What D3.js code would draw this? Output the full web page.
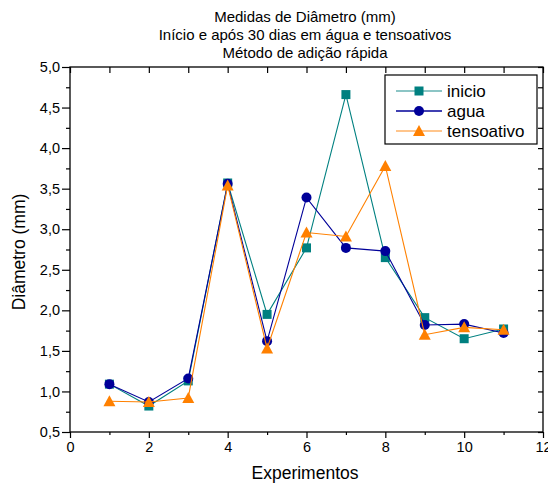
<!DOCTYPE html>
<html><head><meta charset="utf-8">
<script src="https://cdn.jsdelivr.net/npm/d3@7"></script>
<style>body{margin:0;background:#fff}svg{display:block}text{font-family:"Liberation Sans",Arial,sans-serif;fill:#000}</style>
</head><body><svg id="c" width="548" height="484"></svg>
<script>
const experiments = [1,2,3,4,5,6,7,8,9,10,11];
const inicio = [1.09,0.82,1.13,3.57,1.95,2.77,4.66,2.65,1.91,1.65,1.77];
const agua = [1.09,0.87,1.16,3.56,1.62,3.39,2.77,2.73,1.82,1.83,1.72];
const tensoativo = [0.88,0.87,0.92,3.54,1.53,2.96,2.91,3.78,1.70,1.79,1.76];
const xTicks = [0,2,4,6,8,10,12];
const yTicks = [0.5,1.0,1.5,2.0,2.5,3.0,3.5,4.0,4.5,5.0];
const titleLines = ["Medidas de Diâmetro (mm)","Início e após 30 dias em água e tensoativos","Método de adição rápida"];
const seriesNames = ["inicio","agua","tensoativo"];

const svg = d3.select("#c");
const L=70,R=543,T=67,B=432;
const x = d3.scaleLinear().domain([0,12]).range([L,R]);
const y = d3.scaleLinear().domain([0.5,5.0]).range([B,T]);
const fmt = d => d3.format(".1f")(d).replace(".",",");

// frame
svg.append("rect").attr("x",L).attr("y",T).attr("width",R-L).attr("height",B-T).attr("fill","none").attr("stroke","#000").attr("stroke-width",1.3);

// bottom axis
const gB = svg.append("g").attr("transform",`translate(0,${B})`)
  .call(d3.axisBottom(x).tickValues(xTicks).tickFormat(d3.format("d")).tickSize(6).tickPadding(4));
svg.append("g").attr("transform",`translate(0,${B})`)
  .call(d3.axisBottom(x).tickValues(d3.range(1,12,2)).tickFormat("").tickSize(3));
// left axis
const gL = svg.append("g").attr("transform",`translate(${L},0)`)
  .call(d3.axisLeft(y).tickValues(yTicks).tickFormat(fmt).tickSize(8).tickPadding(2));
svg.append("g").attr("transform",`translate(${L},0)`)
  .call(d3.axisLeft(y).tickValues(d3.range(0.75,5,0.5)).tickFormat("").tickSize(4));
// top axis inward
svg.append("g").attr("transform",`translate(0,${T})`)
  .call(d3.axisBottom(x).tickValues(d3.range(0,13,1)).tickFormat("").tickSize(6));
// right axis inward
svg.append("g").attr("transform",`translate(${R},0)`)
  .call(d3.axisLeft(y).tickValues(d3.range(0.5,5.01,0.25)).tickFormat("").tickSize(5));
svg.selectAll(".domain").remove();
svg.selectAll(".tick line").attr("stroke","#000").attr("stroke-width",1.2);
svg.selectAll(".tick text").style("font-family","'Liberation Sans',Arial,sans-serif").style("font-size","14.5px").attr("fill","#000");

// titles
svg.append("text").attr("x",305).attr("text-anchor","middle").style("font-size","15px")
  .selectAll("tspan").data(titleLines).join("tspan").attr("x",305).attr("y",(d,i)=>22+i*18).text(d=>d);
svg.append("text").attr("x",305).attr("y",479).attr("text-anchor","middle").style("font-size","17.5px").text("Experimentos");
svg.append("text").attr("transform","translate(25,252) rotate(-90)").attr("text-anchor","middle").style("font-size","17.5px").text("Diâmetro (mm)");

const colors = {inicio:"#008080",agua:"#000099",tensoativo:"#ff8000"};
const lineCol = {inicio:"#008080",agua:"#000099",tensoativo:"#ff8000"};
const data = {inicio, agua, tensoativo};
function marker(g, name, cx, cy){
  if(name==="inicio") g.append("rect").attr("x",cx-4.5).attr("y",cy-4.5).attr("width",9).attr("height",9).attr("fill",colors[name]);
  else if(name==="agua") g.append("circle").attr("cx",cx).attr("cy",cy).attr("r",5).attr("fill",colors[name]);
  else g.append("path").attr("d",`M${cx},${cy-6}L${cx+6},${cy+5}L${cx-6},${cy+5}Z`).attr("fill",colors[name]);
}
const line = d3.line().x((d,i)=>x(experiments[i])).y(d=>y(d));
seriesNames.forEach(name=>{
  const g = svg.append("g");
  g.append("path").datum(data[name]).attr("d",line).attr("fill","none").attr("stroke",lineCol[name]).attr("stroke-width",1.1);
  data[name].forEach((v,i)=>marker(g,name,x(experiments[i]),y(v)));
});

// legend
const lg = svg.append("g");
lg.append("rect").attr("x",385).attr("y",75).attr("width",152).attr("height",69).attr("fill","#fff").attr("stroke","#000").attr("stroke-width",1.2);
seriesNames.forEach((name,i)=>{
  const yy = 91+i*20;
  lg.append("line").attr("x1",396).attr("x2",442).attr("y1",yy).attr("y2",yy).attr("stroke",lineCol[name]).attr("stroke-width",1.5).attr("opacity",name==="agua"?1:0.6);
  marker(lg,name,419,yy);
  lg.append("text").attr("x",447).attr("y",yy+6).style("font-size","17px").text(name);
});
</script></body></html>
